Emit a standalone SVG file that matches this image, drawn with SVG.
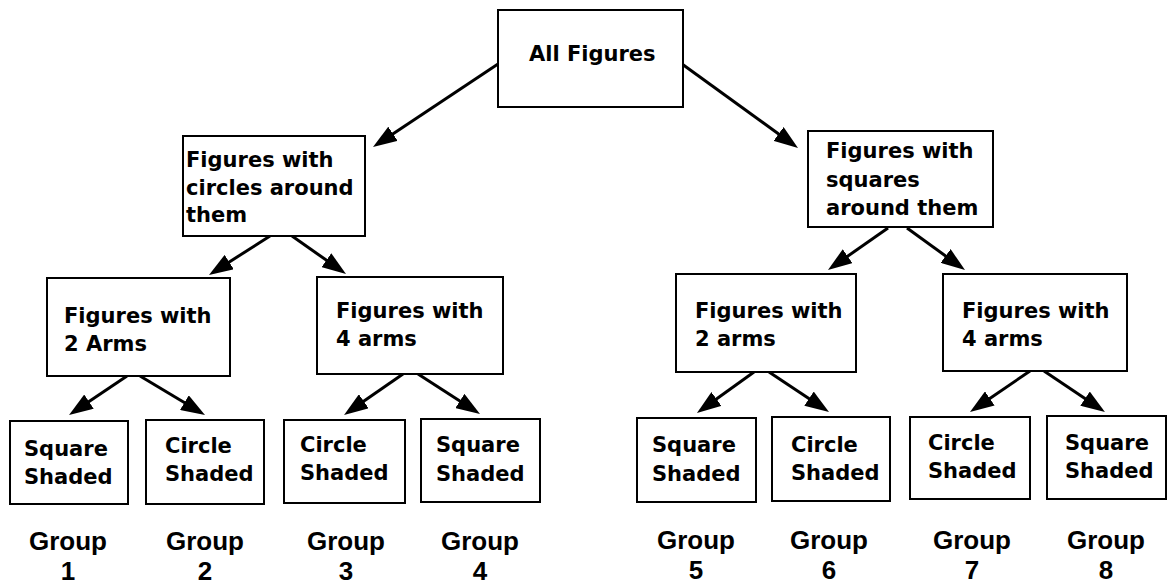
<svg xmlns="http://www.w3.org/2000/svg" width="1169" height="585" viewBox="0 0 1169 585">
  <style>
    .box { fill: #ffffff; stroke: #000000; stroke-width: 2; }
    .lbl { font-family: "DejaVu Sans", Verdana, sans-serif; font-weight: bold; font-size: 21px; fill: #000000; }
    .grp { font-family: "Liberation Sans", Arial, sans-serif; font-weight: bold; font-size: 26px; fill: #000000; text-anchor: middle; }
    .edge { stroke: #000000; stroke-width: 3; fill: none; marker-end: url(#head); }
  </style>
  <defs>
    <marker id="head" markerUnits="userSpaceOnUse" markerWidth="24" markerHeight="17" refX="12" refY="8.5" orient="auto">
      <path d="M0,0 L24,8.5 L0,17 z" fill="#000000"/>
    </marker>
  </defs>
  <rect width="1169" height="585" fill="#ffffff"/>

  <!-- connectors -->
  <g id="connectors">
    <line class="edge" x1="498" y1="64" x2="383.0" y2="140.4"/>
    <line class="edge" x1="682" y1="64" x2="788.3" y2="141.0"/>
    <line class="edge" x1="270" y1="236" x2="219.1" y2="268.5"/>
    <line class="edge" x1="292" y1="236" x2="336.2" y2="267.1"/>
    <line class="edge" x1="127" y1="376" x2="79.0" y2="408.3"/>
    <line class="edge" x1="140" y1="376" x2="194.7" y2="408.8"/>
    <line class="edge" x1="403" y1="374" x2="353.9" y2="408.1"/>
    <line class="edge" x1="418" y1="374" x2="469.9" y2="407.5"/>
    <line class="edge" x1="888" y1="228" x2="837.8" y2="263.1"/>
    <line class="edge" x1="907" y1="228" x2="955.3" y2="263.0"/>
    <line class="edge" x1="754" y1="372" x2="706.7" y2="406.0"/>
    <line class="edge" x1="769" y1="372" x2="819.0" y2="405.3"/>
    <line class="edge" x1="1030" y1="371" x2="979.9" y2="405.2"/>
    <line class="edge" x1="1044" y1="371" x2="1095.0" y2="405.3"/>
  </g>

  <!-- root -->
  <g id="all-figures">
    <rect class="box" x="498" y="10" width="185" height="97"/>
    <text class="lbl" x="529" y="61">All Figures</text>
  </g>

  <!-- second level -->
  <g id="circles-around">
    <rect class="box" x="183" y="136" width="182" height="100"/>
    <text class="lbl" x="186" y="167">Figures with</text>
    <text class="lbl" x="186" y="195">circles around</text>
    <text class="lbl" x="186" y="222">them</text>
  </g>
  <g id="squares-around">
    <rect class="box" x="808" y="131" width="185" height="96"/>
    <text class="lbl" x="826" y="158">Figures with</text>
    <text class="lbl" x="826" y="187">squares</text>
    <text class="lbl" x="826" y="215">around them</text>
  </g>

  <!-- third level -->
  <g id="circles-2-arms">
    <rect class="box" x="47" y="278" width="183" height="98"/>
    <text class="lbl" x="64" y="323">Figures with</text>
    <text class="lbl" x="64" y="351">2 Arms</text>
  </g>
  <g id="circles-4-arms">
    <rect class="box" x="317" y="277" width="186" height="97"/>
    <text class="lbl" x="336" y="318">Figures with</text>
    <text class="lbl" x="336" y="346">4 arms</text>
  </g>
  <g id="squares-2-arms">
    <rect class="box" x="676" y="274" width="180" height="98"/>
    <text class="lbl" x="695" y="318">Figures with</text>
    <text class="lbl" x="695" y="346">2 arms</text>
  </g>
  <g id="squares-4-arms">
    <rect class="box" x="943" y="274" width="184" height="97"/>
    <text class="lbl" x="962" y="318">Figures with</text>
    <text class="lbl" x="962" y="346">4 arms</text>
  </g>

  <!-- leaves -->
  <g id="group-1">
    <rect class="box" x="10" y="421" width="118" height="83"/>
    <text class="lbl" x="24" y="456">Square</text>
    <text class="lbl" x="24" y="484">Shaded</text>
    <text class="grp" x="68" y="550">Group</text>
    <text class="grp" x="68" y="580">1</text>
  </g>
  <g id="group-2">
    <rect class="box" x="146" y="420" width="118" height="84"/>
    <text class="lbl" x="165" y="453">Circle</text>
    <text class="lbl" x="165" y="481">Shaded</text>
    <text class="grp" x="205" y="550">Group</text>
    <text class="grp" x="205" y="580">2</text>
  </g>
  <g id="group-3">
    <rect class="box" x="284" y="420" width="121" height="83"/>
    <text class="lbl" x="300" y="452">Circle</text>
    <text class="lbl" x="300" y="480">Shaded</text>
    <text class="grp" x="346" y="550">Group</text>
    <text class="grp" x="346" y="580">3</text>
  </g>
  <g id="group-4">
    <rect class="box" x="421" y="419" width="119" height="83"/>
    <text class="lbl" x="436" y="452">Square</text>
    <text class="lbl" x="436" y="481">Shaded</text>
    <text class="grp" x="480" y="550">Group</text>
    <text class="grp" x="480" y="580">4</text>
  </g>
  <g id="group-5">
    <rect class="box" x="637" y="418" width="119" height="84"/>
    <text class="lbl" x="652" y="452">Square</text>
    <text class="lbl" x="652" y="481">Shaded</text>
    <text class="grp" x="696" y="549">Group</text>
    <text class="grp" x="696" y="579">5</text>
  </g>
  <g id="group-6">
    <rect class="box" x="772" y="417" width="118" height="84"/>
    <text class="lbl" x="791" y="452">Circle</text>
    <text class="lbl" x="791" y="480">Shaded</text>
    <text class="grp" x="829" y="549">Group</text>
    <text class="grp" x="829" y="579">6</text>
  </g>
  <g id="group-7">
    <rect class="box" x="910" y="417" width="120" height="82"/>
    <text class="lbl" x="928" y="450">Circle</text>
    <text class="lbl" x="928" y="478">Shaded</text>
    <text class="grp" x="972" y="549">Group</text>
    <text class="grp" x="972" y="579">7</text>
  </g>
  <g id="group-8">
    <rect class="box" x="1047" y="416" width="119" height="83"/>
    <text class="lbl" x="1065" y="450">Square</text>
    <text class="lbl" x="1065" y="478">Shaded</text>
    <text class="grp" x="1106" y="549">Group</text>
    <text class="grp" x="1106" y="579">8</text>
  </g>
</svg>
